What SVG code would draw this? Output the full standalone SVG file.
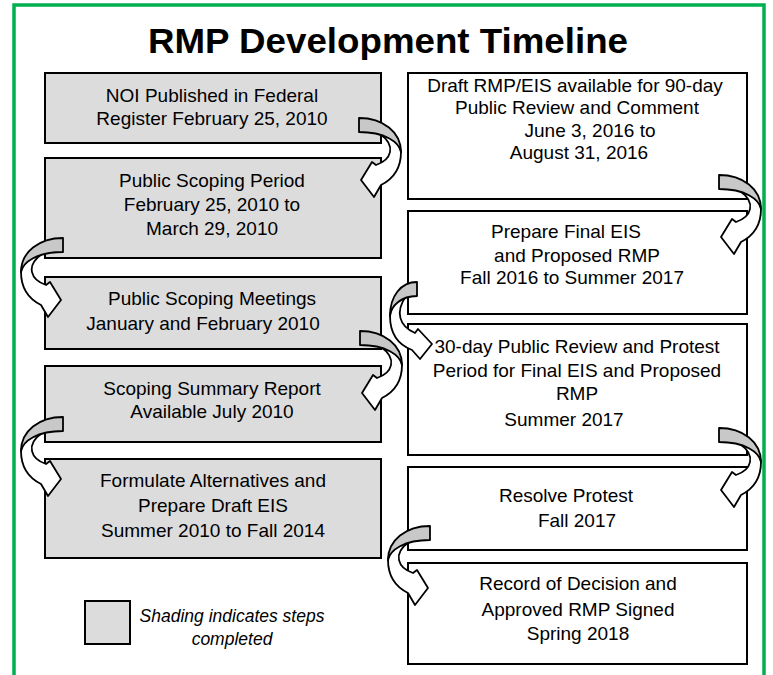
<svg xmlns="http://www.w3.org/2000/svg" width="773" height="675" viewBox="0 0 773 675">
<style>
.frame{fill:none;stroke:#00b050;stroke-width:3.5}
.title{font-family:"Liberation Sans",Arial,sans-serif;font-weight:bold;font-size:35px;fill:#000;text-anchor:middle}
.box{stroke:#000;stroke-width:2}
.done{fill:#dcdcdc}
.todo{fill:#fff}
.t{font-family:"Liberation Sans",Arial,sans-serif;font-size:19px;fill:#000;text-anchor:middle}
.it{font-family:"Liberation Sans",Arial,sans-serif;font-size:17.5px;font-style:italic;fill:#000;text-anchor:middle}
.back{fill:#c8c8c8;stroke:#000;stroke-width:1.8;stroke-linejoin:round}
.front{fill:#fff;stroke:#000;stroke-width:1.8;stroke-linejoin:round}
</style>
<defs>
<g id="arrowA">
<path class="front" d="M42,34 C42,50 34,61 22,67 L15,79 L2,62 L13,44 L17,47 C32,42 38,28 21,16 C33,20 42,27 42,34 Z"/>
<path class="back" d="M0,0 C24,0 42,14 42,34 C40,24 26,14 0,14 Z"/>
</g>
<g id="arrowB">
<path class="front" d="M27,34 C27,52 18,63 5,68 L-3,77 L-15,62 L-1,47 L2,51 C18,44 22,30 11,14 C20,18 27,26 27,34 Z"/>
<path class="back" d="M0,0 C16,0 27,14 27,34 C26,24 16,14 0,14 Z"/>
</g>
</defs>
<rect width="773" height="675" fill="#fff"/>
<path class="frame" d="M14,680 L14,5 L764,5 L764,680"/>
<text class="title" x="388" y="53" textLength="480" lengthAdjust="spacingAndGlyphs">RMP Development Timeline</text>

<g id="nodes">
<g id="n1"><rect class="box done" x="45" y="73" width="336" height="70"/>
<text class="t" x="212" y="102">NOI Published in Federal</text>
<text class="t" x="212" y="125">Register February 25, 2010</text></g>
<g id="n2"><rect class="box done" x="45" y="158" width="336" height="100"/>
<text class="t" x="212" y="187">Public Scoping Period</text>
<text class="t" x="212" y="211">February 25, 2010 to</text>
<text class="t" x="212" y="235">March 29, 2010</text></g>
<g id="n3"><rect class="box done" x="45" y="277" width="336" height="72"/>
<text class="t" x="212" y="305">Public Scoping Meetings</text>
<text class="t" x="203" y="330">January and February 2010</text></g>
<g id="n4"><rect class="box done" x="45" y="366" width="336" height="76"/>
<text class="t" x="212" y="395">Scoping Summary Report</text>
<text class="t" x="212" y="418">Available July 2010</text></g>
<g id="n5"><rect class="box done" x="45" y="459" width="336" height="99"/>
<text class="t" x="213" y="487">Formulate Alternatives and</text>
<text class="t" x="213" y="512">Prepare Draft EIS</text>
<text class="t" x="213" y="537">Summer 2010 to Fall 2014</text></g>
<g id="n6"><rect class="box todo" x="408" y="73" width="339" height="126"/>
<text class="t" x="575" y="92">Draft RMP/EIS available for 90-day</text>
<text class="t" x="577" y="114">Public Review and Comment</text>
<text class="t" x="590" y="137">June 3, 2016 to</text>
<text class="t" x="579" y="159">August 31, 2016</text></g>
<g id="n7"><rect class="box todo" x="408" y="211" width="339" height="103"/>
<text class="t" x="566" y="238">Prepare Final EIS</text>
<text class="t" x="577" y="262">and Proposed RMP</text>
<text class="t" x="572" y="284">Fall 2016 to Summer 2017</text></g>
<g id="n8"><rect class="box todo" x="408" y="324" width="339" height="131"/>
<text class="t" x="577" y="353">30-day Public Review and Protest</text>
<text class="t" x="577" y="377">Period for Final EIS and Proposed</text>
<text class="t" x="577" y="400">RMP</text>
<text class="t" x="564" y="426">Summer 2017</text></g>
<g id="n9"><rect class="box todo" x="408" y="467" width="339" height="83"/>
<text class="t" x="566" y="502">Resolve Protest</text>
<text class="t" x="577" y="527">Fall 2017</text></g>
<g id="n10"><rect class="box todo" x="408" y="563" width="339" height="101"/>
<text class="t" x="578" y="590">Record of Decision and</text>
<text class="t" x="578" y="616">Approved RMP Signed</text>
<text class="t" x="578" y="640">Spring 2018</text></g>
<g id="legend"><rect class="box done" x="85" y="601" width="45" height="43" stroke-width="1.5"/>
<text class="it" x="232" y="622">Shading indicates steps</text>
<text class="it" x="232" y="645">completed</text></g>
</g>

<g id="connectors">
<use href="#arrowA" transform="translate(359,118)"/>
<use href="#arrowA" transform="translate(63,238) scale(-1,1)"/>
<use href="#arrowA" transform="translate(360,331)"/>
<use href="#arrowA" transform="translate(63,417) scale(-1,1)"/>
<use href="#arrowA" transform="translate(719,175)"/>
<use href="#arrowB" transform="translate(417,282) scale(-1,1)"/>
<use href="#arrowA" transform="translate(719,428)"/>
<use href="#arrowA" transform="translate(430,526) scale(-1,1)"/>
</g>
</svg>
